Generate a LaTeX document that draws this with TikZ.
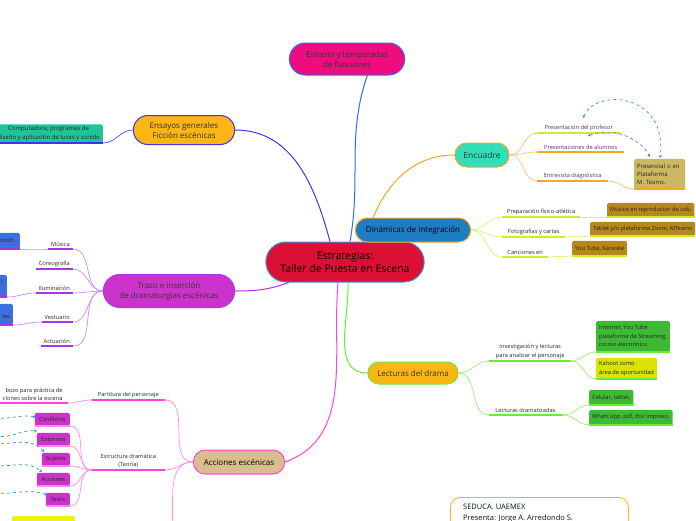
\documentclass[tikz,border=0pt]{standalone}
\usepackage{fontspec}
\setmainfont{Open Sans}
\usetikzlibrary{shapes.misc,backgrounds,arrows.meta}

\definecolor{crimson}{HTML}{DC1035}
\definecolor{pinkc}{HTML}{EE0C7E}
\definecolor{orangec}{HTML}{FBB514}
\definecolor{magc}{HTML}{CC33CC}
\definecolor{tealc}{HTML}{33DDB8}
\definecolor{bluec}{HTML}{1F7DC4}
\definecolor{tanc}{HTML}{D7BE8C}
\definecolor{skyb}{HTML}{4A90D9}
\definecolor{lineblue}{HTML}{3366FF}
\definecolor{indigo}{HTML}{4433EE}
\definecolor{violet}{HTML}{AA33EE}
\definecolor{lviolet}{HTML}{CC88FF}
\definecolor{orangel}{HTML}{F5A623}
\definecolor{lorange}{HTML}{F9C37A}
\definecolor{greenl}{HTML}{66EE33}
\definecolor{lgreen}{HTML}{99EE77}
\definecolor{ygreen}{HTML}{CCEE22}
\definecolor{lygreen}{HTML}{DDF077}
\definecolor{magl}{HTML}{FF44DD}
\definecolor{lmag}{HTML}{FF88EE}
\definecolor{compc}{HTML}{1FC49B}
\definecolor{boxblue}{HTML}{3E6FE0}
\definecolor{brownc}{HTML}{B5871C}
\definecolor{leafgreen}{HTML}{3DB935}
\definecolor{leafyellow}{HTML}{D9E200}
\definecolor{khaki}{HTML}{CDB862}
\definecolor{yellowc}{HTML}{EEF212}
\definecolor{relblue}{HTML}{3B8FE0}
\definecolor{purpletext}{HTML}{5B2C6F}

\tikzset{
  x=1pt,y=-1pt,
  pill/.style={rounded rectangle, draw=#1, line width=1pt, align=center,
    font=\fontsize{8}{10}\selectfont, text=black!80},
  lbl/.style={font=\fontsize{5.7}{8.5}\selectfont, align=center, inner xsep=3pt,
    inner ysep=2pt, text=black!85,
    append after command={(\tikzlastnode.south west)
      edge[draw=#1,line width=1.3pt] (\tikzlastnode.south east)}},
  leaf/.style 2 args={lbl=#2, fill=#1, rounded corners=1.5pt},
  rel/.style={relblue, dashed, line width=0.7pt, -{Stealth[length=3pt,width=3pt]}}
}

\begin{document}
\begin{tikzpicture}
\useasboundingbox (0,0) rectangle (696,520);

% main topics
\node[pill=skyb, fill=crimson, minimum width=165pt, minimum height=40pt,
  font=\fontsize{10.5}{13}\selectfont, text=black] (central) at (345,262)
  {Estrategias:\\Taller de Puesta en Escena};
\node[pill=lineblue, fill=pinkc, minimum width=122pt, minimum height=32pt] (estreno)
  at (347,59) {Estreno y temporadas\\de funciones};
\node[pill=indigo, fill=orangec, minimum width=108pt, minimum height=29pt] (ensayos)
  at (184,130) {Ensayos generales\\Ficción escénicas};
\node[pill=violet, fill=magc, minimum width=138pt, minimum height=33pt] (trazo)
  at (169,291) {Trazo e inserción\\de dramaturgias escénicas};
\node[pill=orangel, fill=tealc, minimum width=61pt, minimum height=24pt,
  font=\fontsize{8.5}{10}\selectfont] (encuadre) at (482,155) {Encuadre};
\node[pill=orangel, fill=bluec, minimum width=122pt, minimum height=24pt,
  text=black!75!blue!40!black] (dinamicas) at (413,230) {Dinámicas de integración};
\node[pill=greenl, fill=orangec, minimum width=97pt, minimum height=22pt] (lecturas)
  at (413,373) {Lecturas del drama};
\node[pill=magl, fill=tanc, minimum width=98pt, minimum height=24pt, text=black]
  (acciones) at (239,462) {Acciones escénicas};

% ensayos
\node[leaf={compc}{indigo}, anchor=south east, font=\fontsize{6}{8.5}\selectfont]
  (compu) at (103,143)
  {Computadora, programas de\\diseño y aplicación de luces y sonido};

% trazo
\node[lbl=violet, anchor=south east] (musica) at (73,249) {Música};
\node[lbl=violet, anchor=south east] (coreo) at (73,269) {Coreografía};
\node[lbl=violet, anchor=south east] (ilum) at (73,293) {Iluminación};
\node[lbl=violet, anchor=south east] (vest) at (73,322) {Vestuario};
\node[lbl=violet, anchor=south east] (actua) at (73,346) {Actuación};
\node[leaf={boxblue}{violet}, anchor=south east, minimum height=16pt,
  text width=30pt, align=right] (bluetooth) at (20,249) {tooth..};
\node[leaf={boxblue}{violet}, anchor=south east, minimum height=22pt,
  text width=20pt, align=right] (luces) at (7,297) {l,\\\mbox{}};
\node[leaf={boxblue}{violet}, anchor=south east, minimum height=21pt,
  text width=20pt, align=right] (materiales) at (13,325) {\mbox{}\\les};

% acciones
\node[lbl=magl, anchor=south east, minimum width=73pt] (partitura) at (165,400)
  {Partitura del personaje};
\node[lbl=magl, anchor=south east, align=right, minimum width=70pt] (esbozo)
  at (68,403) {bozo para práctica de\\ciones sobre la escena};
\node[lbl=magl, anchor=south east, minimum width=73pt] (estructura) at (165,470)
  {Estructura dramática\\(Teoría)};
\node[leaf={magc}{lmag}, anchor=south east, minimum width=35pt, minimum height=13pt]
  (conflictos) at (70,426) {Conflictos};
\node[leaf={magc}{lmag}, anchor=south east, minimum width=33pt, minimum height=13pt]
  (entornos) at (70,446) {Entornos};
\node[leaf={magc}{lmag}, anchor=south east, minimum width=28pt, minimum height=13pt]
  (sujetos) at (70,466) {Sujetos};
\node[leaf={magc}{lmag}, anchor=south east, minimum width=33pt, minimum height=13pt]
  (accs) at (70,486) {Acciones};
\node[leaf={magc}{lmag}, anchor=south east, minimum width=24pt, minimum height=13pt]
  (texto) at (70,506) {Texto};
\node[fill=yellowc, rounded corners=1.5pt, minimum width=63pt, minimum height=14pt,
  anchor=north west] (amarillo) at (12,516) {};
\coordinate (abajo) at (172,526);

% encuadre
\node[lbl=ygreen, anchor=south west, text=purpletext, minimum width=83pt]
  (profesor) at (537,133) {Presentación del profesor};
\node[lbl=orangel, anchor=south west, text=purpletext, minimum width=87pt]
  (alumnos) at (537,152) {Presentaciones de alumnos};
\node[lbl=orangel, anchor=south west, text=purpletext, minimum width=71pt]
  (entrevista) at (537,181) {Entrevista diagnóstica};
\node[leaf={khaki}{orangel}, anchor=south west, align=left, text width=45pt,
  minimum height=30pt, font=\fontsize{5.9}{8}\selectfont] (presencial) at (634,189)
  {Presencial o en\\Plataforma\\M. Teams.};

% dinamicas
\node[lbl=ygreen, anchor=south west, minimum width=78pt] (preparacion) at (502,217)
  {Preparación físico-atlética};
\node[lbl=ygreen, anchor=south west, minimum width=63pt] (fotos) at (502,237)
  {Fotografías y cartas};
\node[lbl=ygreen, anchor=south west, minimum width=46pt] (canciones) at (502,257)
  {Canciones en};
\node[leaf={brownc}{ygreen}, anchor=south west, minimum height=14pt] (usb)
  at (607,217) {Música en reproductor de usb.};
\node[leaf={brownc}{ygreen}, anchor=south west, minimum height=14pt] (tablet)
  at (590,236) {Tablet y/o plataforma Zoom, MTeams};
\node[leaf={brownc}{ygreen}, anchor=south west, minimum height=15pt] (youtube)
  at (572,256) {You Tube, Karaoke};

% lecturas
\node[lbl=greenl, anchor=south west, minimum width=82pt] (investigacion) at (489,361)
  {Investigación y lecturas\\para analizar el personaje};
\node[lbl=greenl, anchor=south west, minimum width=74pt] (dramatizadas) at (489,415)
  {Lecturas dramatizadas.};
\node[leaf={leafgreen}{greenl}, anchor=south west, align=left, minimum height=31pt]
  (internet) at (596,352) {Internet, You Tube\\plataforma de Streaming,\\correo electrónico.};
\node[leaf={leafyellow}{greenl}, anchor=south west, align=left, minimum height=21pt]
  (kahoot) at (596,379) {Kahoot como\\área de oportunidad};
\node[leaf={leafgreen}{greenl}, anchor=south west, minimum height=15pt] (celular)
  at (589,405) {Celular, tablet,};
\node[leaf={leafgreen}{greenl}, anchor=south west, minimum height=15pt] (whats)
  at (589,425) {Whats app, pdf, doc impreso.};

% credits
\node[draw=orangec, line width=0.8pt, fill=white, rounded corners=10pt, anchor=north west,
  minimum width=178pt, minimum height=50pt, inner sep=0pt] (seduca) at (450,497) {};
\node[anchor=north west, align=left, font=\fontsize{7.5}{11}\selectfont,
  text=black!60!green!30!black, inner sep=0pt] (presenta) at (463,504)
  {SEDUCA. UAEMEX\\Presenta: Jorge A. Arredondo S.};

% relations
\coordinate (r1) at (-5,418);
\coordinate (r2) at (-5,436);
\coordinate (r3) at (-5,444);
\coordinate (r4) at (-5,466);
\coordinate (r5) at (-5,493);
\draw[rel] (r1) to[out=-5,in=170] (36,417);
\draw[rel] (r2) to[out=-10,in=175] (37,431);
\draw[rel] (r3) to[out=0,in=130] (44,452);
\draw[rel] (r4) to[out=-2,in=140] (42,472);
\draw[rel] (r5) to[out=-5,in=160] (47,495);
\draw[rel, {Stealth[length=3pt,width=3pt]}-{Stealth[length=3pt,width=3pt]}]
  (583,118) .. controls (595,88) and (668,92) .. (660,158);
\draw[rel, {Stealth[length=3pt,width=3pt]}-{Stealth[length=3pt,width=3pt]}]
  (588,136) .. controls (612,126) and (640,138) .. (650,157);

\begin{scope}[on background layer]
  % main branches
  \draw[lineblue, line width=1pt] ([xshift=5pt]central.north) to[out=80,in=-110] ([xshift=-20pt,yshift=4pt]estreno.south east);
  \draw[indigo, line width=1pt] ([xshift=-15pt]central.north) to[out=105,in=0] (ensayos.east);
  \draw[violet, line width=1pt] (central) to[out=200,in=0] (trazo.east);
  \draw[orangel, line width=1pt] ([xshift=20pt]central.north) to[out=75,in=180] (encuadre.west);
  \draw[greenl, line width=1pt] ([xshift=3pt]central.south) to[out=-88,in=180] (lecturas.west);
  \draw[magl, line width=1pt] ([xshift=-7pt]central.south) to[out=-95,in=20] (acciones.east);
  % ensayos
  \draw[indigo, line width=0.6pt] (ensayos.west) to[out=180,in=0] (compu.south east);
  % trazo
  \foreach \n in {musica,coreo,ilum,vest,actua}
    \draw[lviolet, line width=0.7pt] (trazo.west) to[out=180,in=0] (\n.south east);
  \draw[lviolet, line width=0.7pt] (musica.south west) to[out=180,in=0] (bluetooth.south east);
  \draw[lviolet, line width=0.7pt] (ilum.south west) to[out=180,in=0] (luces.south east);
  \draw[lviolet, line width=0.7pt] (vest.south west) to[out=180,in=0] (materiales.south east);
  % acciones
  \foreach \n in {partitura,estructura}
    \draw[lmag, line width=0.7pt] (acciones.west) to[out=180,in=0] (\n.south east);
  \draw[lmag, line width=0.7pt] (acciones.west) to[out=180,in=85] (abajo);
  \draw[lmag, line width=0.7pt] (partitura.south west) to[out=180,in=0] (esbozo.south east);
  \foreach \n in {conflictos,entornos,sujetos,accs,texto}
    \draw[lmag, line width=0.7pt] (estructura.south west) to[out=180,in=0] (\n.south east);
  % encuadre
  \foreach \n in {profesor,alumnos,entrevista}
    \draw[lorange, line width=0.7pt] (encuadre.east) to[out=0,in=180] (\n.south west);
  \draw[lorange, line width=0.7pt] (entrevista.south east) to[out=0,in=180] (presencial.south west);
  % dinamicas
  \foreach \n in {preparacion,fotos,canciones}
    \draw[lygreen, line width=0.7pt] (dinamicas.east) to[out=0,in=180] (\n.south west);
  \draw[lygreen, line width=0.7pt] (preparacion.south east) -- (usb.south west);
  \draw[lygreen, line width=0.7pt] (fotos.south east) -- (tablet.south west);
  \draw[lygreen, line width=0.7pt] (canciones.south east) -- (youtube.south west);
  % lecturas
  \foreach \n in {investigacion,dramatizadas}
    \draw[lgreen, line width=0.7pt] (lecturas.east) to[out=0,in=180] (\n.south west);
  \foreach \n in {internet,kahoot}
    \draw[lgreen, line width=0.7pt] (investigacion.south east) to[out=0,in=180] (\n.south west);
  \foreach \n in {celular,whats}
    \draw[lgreen, line width=0.7pt] (dramatizadas.south east) to[out=0,in=180] (\n.south west);
\end{scope}
\end{tikzpicture}
\end{document}
